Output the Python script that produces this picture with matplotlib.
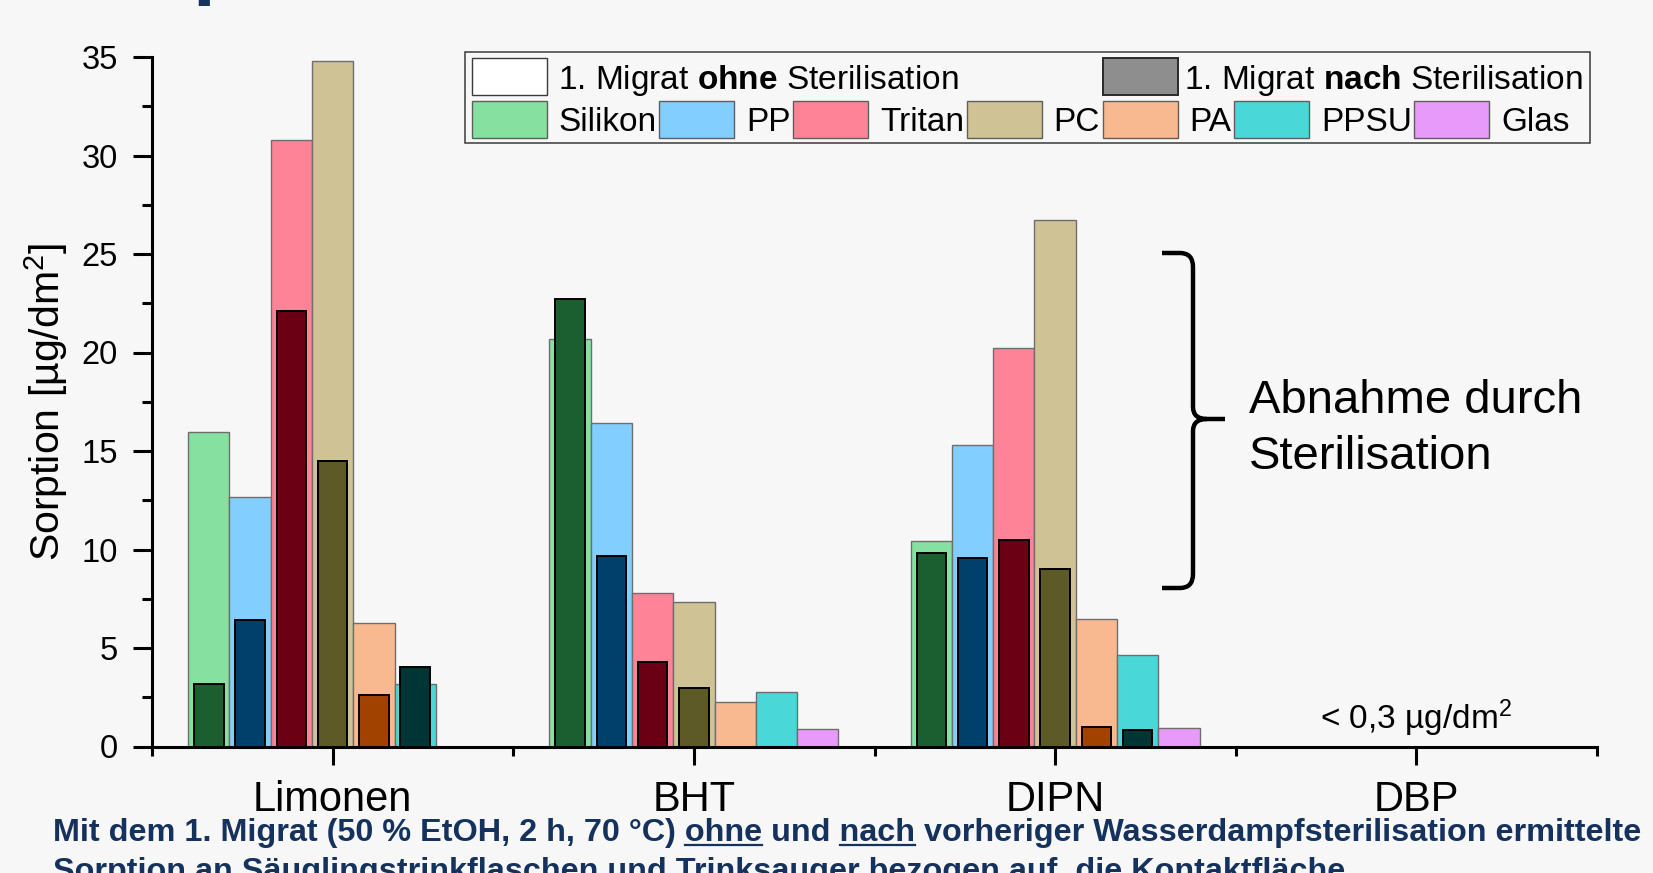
import numpy as np
import matplotlib
matplotlib.use("Agg")
import matplotlib.pyplot as plt
from matplotlib.patches import Rectangle, PathPatch
from matplotlib.path import Path
from matplotlib import font_manager
from matplotlib.ticker import MultipleLocator, FixedLocator

# ---------------- data ----------------
categories = ["Limonen", "BHT", "DIPN", "DBP"]
materials = ["Silikon", "PP", "Tritan", "PC", "PA", "PPSU", "Glas"]
nan = np.nan

# 1. Migrat ohne Sterilisation  (Limonen, BHT, DIPN, DBP)
silikon_ohne = [15.95, 20.68, 10.42, nan]
pp_ohne      = [12.66, 16.43, 15.31, nan]
tritan_ohne  = [30.77, 7.77, 20.22, nan]
pc_ohne      = [34.79, 7.33, 26.75, nan]
pa_ohne      = [6.27, 2.27, 6.47, nan]
ppsu_ohne    = [3.16, 2.76, 4.65, nan]
glas_ohne    = [nan, 0.90, 0.95, nan]

# 1. Migrat nach Sterilisation
silikon_nach = [3.17, 22.72, 9.81, nan]
pp_nach      = [6.43, 9.68, 9.57, nan]
tritan_nach  = [22.10, 4.27, 10.50, nan]
pc_nach      = [14.50, 2.98, 9.00, nan]
pa_nach      = [2.60, nan, 0.98, nan]
ppsu_nach    = [4.02, nan, 0.82, nan]
glas_nach    = [nan, nan, nan, nan]

y_ticks = [0, 5, 10, 15, 20, 25, 30, 35]
y_label = r"Sorption [µg/dm$^2$]"
legend_ohne = r"1. Migrat $\mathbf{ohne}$ Sterilisation"
legend_nach = r"1. Migrat $\mathbf{nach}$ Sterilisation"
dbp_note = r"< 0,3 µg/dm$^2$"
brace_text = "Abnahme durch\nSterilisation"
caption_1 = "Mit dem 1. Migrat (50 % EtOH, 2 h, 70 °C) ohne und nach vorheriger Wasserdampfsterilisation ermittelte"
caption_2 = "Sorption an Säuglingstrinkflaschen und Trinksauger bezogen auf  die Kontaktfläche"
underlined = ["ohne", "nach"]

ohne_vals = [silikon_ohne, pp_ohne, tritan_ohne, pc_ohne, pa_ohne, ppsu_ohne, glas_ohne]
nach_vals = [silikon_nach, pp_nach, tritan_nach, pc_nach, pa_nach, ppsu_nach, glas_nach]

# ---------------- styles ----------------
light_colors = ["#86E0A0", "#82CEFF", "#FF8396", "#CFC395", "#F8B990", "#4AD7D7", "#E89AFA"]
dark_colors = ["#1B5E30", "#00406A", "#6B0014", "#5E5A28", "#A24200", "#003535", "#5A2A66"]
BG = "#F7F7F7"
NAVY = "#15315E"

plt.rcParams["font.family"] = ["Liberation Sans", "DejaVu Sans"]
plt.rcParams["mathtext.fontset"] = "custom"
plt.rcParams["mathtext.rm"] = "Liberation Sans"
plt.rcParams["mathtext.bf"] = "Liberation Sans:bold"
plt.rcParams["mathtext.it"] = "Liberation Sans:italic"
plt.rcParams["mathtext.default"] = "regular"

def has_font(name):
    try:
        font_manager.findfont(font_manager.FontProperties(family=name), fallback_to_default=False)
        return True
    except Exception:
        return False

cap_family = ["Liberation Sans Narrow", "Liberation Sans"] if has_font("Liberation Sans Narrow") else ["Liberation Sans"]

W, H = 1653, 873
fig = plt.figure(figsize=(W / 100, H / 100), dpi=100, facecolor=BG)

def fx(px):
    return px / W

def fy(py):
    return 1 - py / H

ax = fig.add_axes([fx(152), fy(746.5), fx(1597) - fx(152), fy(57) - fy(746.5)], facecolor="none")

x = np.arange(len(categories))
n = len(materials)
bw = 0.8 / n
dw = bw * 0.715
for i in range(n):
    off = (i - (n - 1) / 2) * bw
    ax.bar(x + off, ohne_vals[i], width=bw, color=light_colors[i], edgecolor="#6E6E6E",
           linewidth=1.0, zorder=2)
for i in range(n):
    off = (i - (n - 1) / 2) * bw
    ax.bar(x + off, nach_vals[i], width=dw, color=dark_colors[i], edgecolor="black",
           linewidth=1.4, zorder=3)

ax.set_xlim(-0.5, len(categories) - 0.5)
ax.set_ylim(0, 35)
ax.set_yticks(y_ticks)
ax.yaxis.set_minor_locator(MultipleLocator(2.5))
ax.set_xticks(x)
ax.set_xticklabels(categories)
ax.xaxis.set_minor_locator(FixedLocator(np.arange(-0.5, len(categories), 1.0)))

for s in ["top", "right"]:
    ax.spines[s].set_visible(False)
for s in ["left", "bottom"]:
    ax.spines[s].set_linewidth(2.2)
ax.tick_params(axis="y", which="major", length=13.7, width=2.2, labelsize=23.5, pad=11)
ax.tick_params(axis="y", which="minor", length=7, width=2.2)
ax.tick_params(axis="x", which="major", length=13, width=2.2, labelsize=30, pad=11)
ax.tick_params(axis="x", which="minor", length=6.5, width=2.2)
ax.set_ylabel(y_label, fontsize=29.5, labelpad=8)

# DBP note
ax.text(x[3], 0.9, dbp_note, ha="center", va="baseline", fontsize=24)

# brace
pts = [(1162, 253), (1180, 253), (1193, 253), (1193, 267), (1193, 407), (1193, 419), (1207, 419),
       (1225, 419), (1207, 419), (1193, 419), (1193, 431), (1193, 574), (1193, 588), (1180, 588), (1162, 588)]
codes = [Path.MOVETO, Path.LINETO, Path.CURVE3, Path.CURVE3, Path.LINETO, Path.CURVE3, Path.CURVE3,
         Path.LINETO, Path.MOVETO, Path.CURVE3, Path.CURVE3, Path.LINETO, Path.CURVE3, Path.CURVE3, Path.LINETO]
brace = Path([(fx(a), fy(b)) for a, b in pts], codes)
fig.add_artist(PathPatch(brace, transform=fig.transFigure, fill=False, lw=3.2, color="black",
                         capstyle="butt", joinstyle="round"))
fig.text(fx(1249), fy(429), brace_text, ha="left", va="center", fontsize=34, linespacing=1.36)

# ---------------- legend (Origin style) ----------------
fig.canvas.draw()
renderer = fig.canvas.get_renderer()
LFS = 24
em = LFS * 100 / 72
pw, ph = 75, 37
row_tops = [58, 100.5]
gap_txt = 12
box_left, box_top, box_bot = 465, 52, 142.5

def add_patch(px, row, fc, ec, lw=1.0):
    fig.add_artist(Rectangle((fx(px), fy(row_tops[row] + ph)), pw / W, ph / H, transform=fig.transFigure,
                             facecolor=fc, edgecolor=ec, linewidth=lw, zorder=5))

def add_text(px, row, s):
    base = row_tops[row] + ph / 2 + 0.36 * em
    t = fig.text(fx(px), fy(base), s, ha="left", va="baseline", fontsize=LFS, zorder=6)
    return t.get_window_extent(renderer).x1

cur = 471.5
right_most = 0
pa_x = None
for i, m in enumerate(materials):
    if m == "PA":
        pa_x = cur
    add_patch(cur, 1, light_colors[i], "#5E5E5E")
    end = add_text(cur + pw + gap_txt, 1, m)
    right_most = max(right_most, end)
    cur = end + 2.5

add_patch(471.5, 0, "white", "#3A3A3A")
e1 = add_text(471.5 + pw + gap_txt, 0, legend_ohne)
add_patch(pa_x, 0, "#8E8E8E", "#2A2A2A", lw=1.4)
e2 = add_text(pa_x + pw + gap_txt - 5, 0, legend_nach)
right_most = max(right_most, e1, e2)
box_right = right_most + 7
fig.add_artist(Rectangle((fx(box_left), fy(box_bot)), (box_right - box_left) / W, (box_bot - box_top) / H,
                         transform=fig.transFigure, facecolor="none", edgecolor="#3A3A3A",
                         linewidth=1.1, zorder=4))

# ---------------- caption ----------------
cap_x, cap_base = 53, 841
tmp = fig.text(fx(cap_x), fy(cap_base), caption_1, fontsize=23, family=cap_family, weight="bold")
wid = tmp.get_window_extent(renderer).width
tmp.remove()
cap_fs = 23 * 1592 / wid
fig.text(fx(cap_x), fy(cap_base), caption_1, fontsize=cap_fs, family=cap_family, weight="bold",
         color=NAVY, va="baseline", ha="left")
fig.text(fx(cap_x), fy(cap_base + 39), caption_2, fontsize=cap_fs, family=cap_family, weight="bold",
         color=NAVY, va="baseline", ha="left")
for word in underlined:
    prefix = caption_1[: caption_1.index(" " + word + " ") + len(word) + 1]
    tp = fig.text(fx(cap_x), fy(cap_base), prefix, fontsize=cap_fs, family=cap_family, weight="bold")
    x1 = tp.get_window_extent(renderer).x1
    tp.remove()
    tw = fig.text(0, 0, word, fontsize=cap_fs, family=cap_family, weight="bold")
    ww = tw.get_window_extent(renderer).width
    tw.remove()
    fig.add_artist(plt.Line2D([x1 / W - ww / W, x1 / W], [fy(cap_base + 4), fy(cap_base + 4)],
                              transform=fig.transFigure, color=NAVY, lw=1.6))

# fragment of slide title cut off at the top
fig.text(fx(193), fy(-11), "p", fontsize=59, weight="bold", color=NAVY, ha="left", va="baseline")

fig.savefig("out.png", dpi=100, facecolor=BG)
